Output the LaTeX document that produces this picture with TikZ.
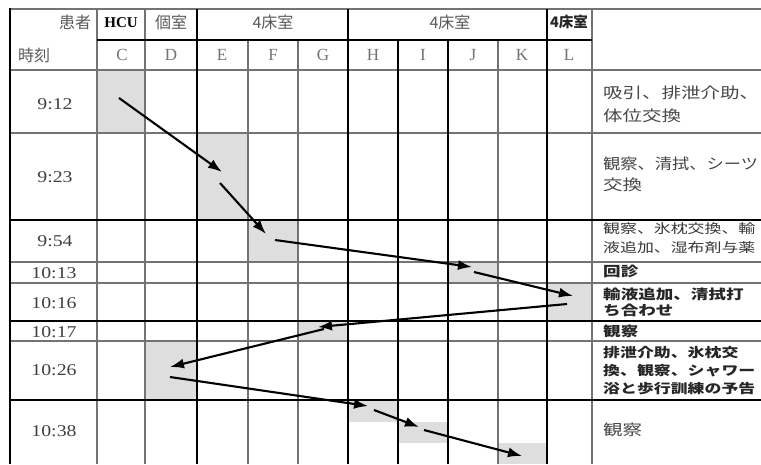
\documentclass[tikz,border=0pt]{standalone}
\usepackage{fontspec}
\usepackage{graphicx}
\setmainfont{Liberation Serif}
\newfontfamily\jpfnt[FakeStretch=1.3]{Noto Sans CJK JP}
\newfontfamily\jpnarrow[FakeStretch=1.15]{Noto Sans CJK JP}
\newfontfamily\jphead{Noto Sans CJK JP}
\newcommand{\wideT}[1]{\scalebox{1.2}[1]{#1}}
\usetikzlibrary{arrows.meta}
\begin{document}
\begin{tikzpicture}[x=1pt,y=-1pt,
  gline/.style={draw=black!55,line width=2.8pt},
  bline/.style={draw=black,line width=1.6pt},
  cell/.style={fill=black!13},
  flow/.style={draw=black,line width=2.1pt,-{Latex[length=14pt,width=10pt]}},
  tlbl/.style={font=\fontsize{16.5}{16.5}\selectfont,text=black!75,inner sep=0pt},
  clbl/.style={font=\fontsize{17}{17}\selectfont,text=black!55,inner sep=0pt},
  hlbl/.style={font=\jphead\fontsize{16}{16}\selectfont,text=black!65,inner sep=0pt},
  nbig/.style={anchor=west,inner sep=0pt,text=black!72,font=\jpfnt\fontsize{15}{15}\selectfont},
  nsmall/.style={anchor=west,inner sep=0pt,text=black!78,font=\jpfnt\fontsize{13}{13}\selectfont},
  nbold/.style={anchor=west,inner sep=0pt,text=black!85,font=\jpfnt\bfseries\fontsize{13.5}{13.5}\selectfont},
]
\useasboundingbox (0,0) rectangle (761,464);
\fill[white] (0,0) rectangle (761,464);

% shaded cells
\fill[cell] (97,70) rectangle (145,133);
\fill[cell] (197,133) rectangle (248,220);
\fill[cell] (248,220) rectangle (298,262);
\fill[cell] (448,262) rectangle (498,283);
\fill[cell] (547,283) rectangle (592,321);
\fill[cell] (298,321) rectangle (348,341);
\fill[cell] (145,341) rectangle (197,400);
\fill[cell] (348,400) rectangle (398,422);
\fill[cell] (398,422) rectangle (448,443);
\fill[cell] (498,443) rectangle (547,464);

% gray grid lines
\draw[gline] (10,9) -- (761,9);
\draw[gline] (10,70) -- (761,70);
\draw[gline] (10,133) -- (761,133);
\draw[gline] (10,262) -- (761,262);
\draw[gline] (10,283) -- (761,283);
\draw[gline] (10,341) -- (761,341);
\draw[gline] (97,9) -- (97,464);
\draw[gline] (145,9) -- (145,464);
\draw[gline] (248,40) -- (248,464);
\draw[gline] (298,40) -- (298,464);
\draw[gline] (498,40) -- (498,464);
\draw[gline] (592,9) -- (592,464);

% black grid lines
\draw[bline] (97,40) -- (592,40);
\draw[bline] (10,220) -- (761,220);
\draw[bline] (10,321) -- (761,321);
\draw[bline] (10,400) -- (761,400);
\draw[bline] (10,8) -- (10,464);
\draw[bline] (197,9) -- (197,464);
\draw[bline] (348,9) -- (348,464);
\draw[bline] (398,40) -- (398,464);
\draw[bline] (448,40) -- (448,464);
\draw[bline] (547,9) -- (547,464);

% header
\node[hlbl] (kanja) at (75,22) {患者};
\node[hlbl] (jikoku) at (34,55) {時刻};
\node[font=\bfseries\fontsize{15}{15}\selectfont,inner sep=0pt] (hcu) at (121,23) {HCU};
\node[hlbl] (koshitsu) at (171,22) {個室};
\node[hlbl] (yon1) at (273,22) {4床室};
\node[hlbl] (yon2) at (450,22) {4床室};
\node[hlbl,font=\jphead\bfseries\fontsize{14.5}{14.5}\selectfont,text=black!85] (yon3) at (569,22) {4床室};

\node[clbl] (cC) at (122,55) {C};
\node[clbl] (cD) at (171,55) {D};
\node[clbl] (cE) at (222,55) {E};
\node[clbl] (cF) at (273,55) {F};
\node[clbl] (cG) at (323,55) {G};
\node[clbl] (cH) at (373,55) {H};
\node[clbl] (cI) at (423,55) {I};
\node[clbl] (cJ) at (473,55) {J};
\node[clbl] (cK) at (522,55) {K};
\node[clbl] (cL) at (569,55) {L};

% times
\node[tlbl] (t1) at (55,104) {\wideT{9:12}};
\node[tlbl] (t2) at (55,177) {\wideT{9:23}};
\node[tlbl] (t3) at (55,241) {\wideT{9:54}};
\node[tlbl] (t4) at (54,273) {\wideT{10:13}};
\node[tlbl] (t5) at (54,303) {\wideT{10:16}};
\node[tlbl] (t6) at (54,332) {\wideT{10:17}};
\node[tlbl] (t7) at (54,370) {\wideT{10:26}};
\node[tlbl] (t8) at (54,431) {\wideT{10:38}};

% notes
\node[nbig] (n1a) at (603,92.5) {吸引、排泄介助、};
\node[nbig] (n1b) at (603,115.5) {体位交換};
\node[nbig,font=\jpnarrow\fontsize{15}{15}\selectfont] (n2a) at (603,164) {観察、清拭、シーツ};
\node[nbig] (n2b) at (603,185) {交換};
\node[nsmall] (n3a) at (603,228.5) {観察、氷枕交換、輸};
\node[nsmall] (n3b) at (603,247.5) {液追加、湿布剤与薬};
\node[nbold] (n4) at (603,271) {回診};
\node[nbold] (n5a) at (603,294.5) {輸液追加、清拭打};
\node[nbold] (n5b) at (603,310.5) {ち合わせ};
\node[nbold] (n6) at (603,331.5) {観察};
\node[nbold,font=\jpfnt\bfseries\fontsize{13}{13}\selectfont] (n7a) at (603,352.5) {排泄介助、氷枕交};
\node[nbold,font=\jpfnt\bfseries\fontsize{13}{13}\selectfont] (n7b) at (603,371) {換、観察、シャワー};
\node[nbold,font=\jpfnt\bfseries\fontsize{13}{13}\selectfont] (n7c) at (603,388.5) {浴と歩行訓練の予告};
\node[nbig] (n8) at (603,430) {観察};

% flow coordinates
\coordinate (p1s) at (119,98);  \coordinate (p1e) at (222,172);
\coordinate (p2s) at (220,183); \coordinate (p2e) at (266,234);
\coordinate (p3s) at (275,240); \coordinate (p3e) at (472,267);
\coordinate (p4s) at (474,272); \coordinate (p4e) at (573,296);
\coordinate (p5s) at (567,304); \coordinate (p5e) at (318,327);
\coordinate (p6s) at (324,329); \coordinate (p6e) at (170,367);
\coordinate (p7s) at (170,377); \coordinate (p7e) at (368,406);
\coordinate (p8s) at (374,410); \coordinate (p8e) at (419,427);
\coordinate (p9s) at (424,430); \coordinate (p9e) at (522,456);

\draw[flow] (p1s) -- (p1e);
\draw[flow] (p2s) -- (p2e);
\draw[flow] (p3s) -- (p3e);
\draw[flow] (p4s) -- (p4e);
\draw[flow] (p5s) -- (p5e);
\draw[flow] (p6s) -- (p6e);
\draw[flow] (p7s) -- (p7e);
\draw[flow] (p8s) -- (p8e);
\draw[flow] (p9s) -- (p9e);
\end{tikzpicture}
\end{document}
